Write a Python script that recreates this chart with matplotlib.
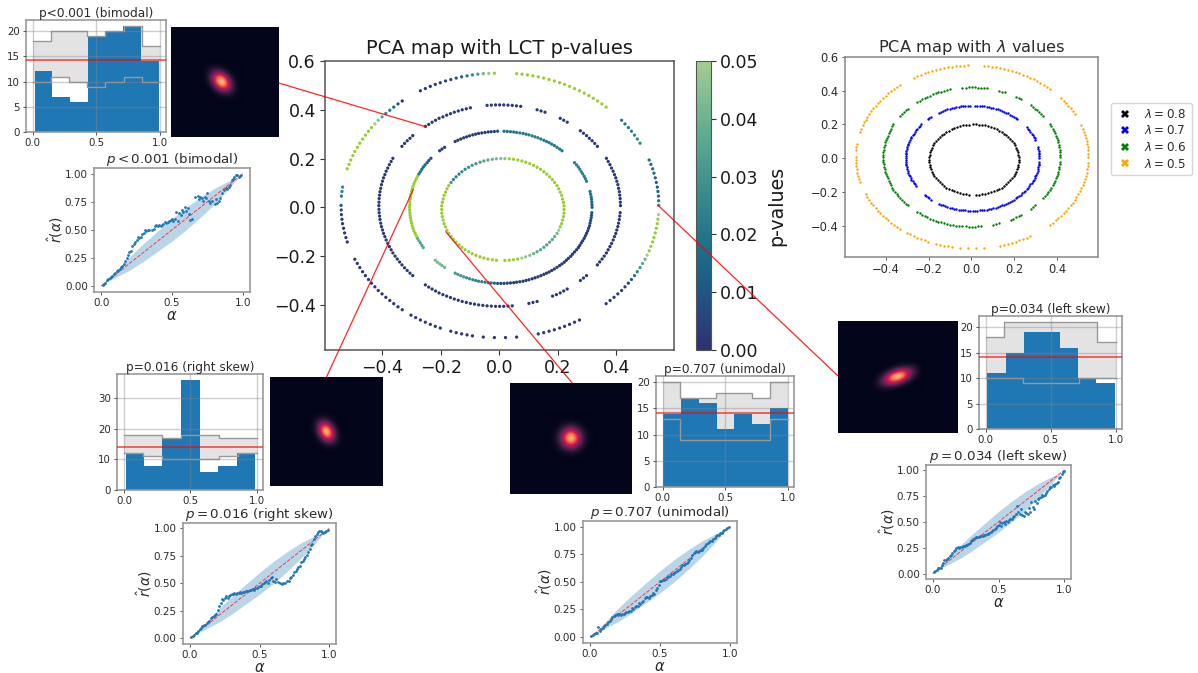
import numpy as np
import matplotlib
matplotlib.use('Agg')
import matplotlib.pyplot as plt
import seaborn as sns
from matplotlib.lines import Line2D
from matplotlib.patches import ConnectionPatch

W, H = 1198, 673

# PCA rings (x, y, p-value per point)
ring1_x = [.221, .221, .219, .216, .213, .208, .203, .197, .189, .181, .172, .162, .152, .141, .129, .117, .104, .090, .077, .063, .048, .034, .019,
           .005, -.010, -.024, -.039, -.053, -.066, -.080, -.093, -.105, -.117, -.128, -.138, -.148, -.157, -.165, -.173, -.179, -.184, -.189, -.192, -.195, -.197,
           -.197, -.197, -.195, -.192, -.189, -.184, -.179, -.173, -.165, -.157, -.148, -.138, -.128, -.117, -.105, -.093, -.080, -.066, -.053, -.039, -.024, -.010,
           .019, .034, .048, .063, .077, .090, .104, .117, .129, .141, .152, .162, .172, .181, .189, .197, .203, .208, .213, .216, .219, .221]
ring1_y = [-.009, .006, .020, .034, .049, .062, .076, .089, .102, .114, .125, .136, .146, .156, .164, .172, .179, .185, .190, .194, .197, .199, .200,
           .200, .199, .197, .194, .190, .185, .179, .172, .164, .156, .146, .136, .125, .114, .102, .089, .076, .062, .049, .034, .020, .006,
           -.009, -.024, -.038, -.052, -.067, -.080, -.094, -.107, -.120, -.132, -.143, -.154, -.164, -.174, -.182, -.190, -.197, -.203, -.208, -.212, -.215, -.217,
           -.218, -.217, -.215, -.212, -.208, -.203, -.197, -.190, -.182, -.174, -.164, -.154, -.143, -.132, -.120, -.107, -.094, -.080, -.067, -.052, -.038, -.024]
ring1_p = [.06, .06, .06, .06, .06, .06, .06, .06, .06, .06, .06, .06, .06, .06, .06, .06, .06, .06, .06, .06, .06, .06, .045,
           .045, .042, .04, .036, .034, .032, .03, .03, .028, .026, .026, .024, .024, .025, .03, .06, .06, .06, .06, .06, .06, .06,
           .06, .06, .06, .06, .06, .06, .06, .06, .06, .06, .06, .06, .06, .06, .06, .06, .06, .06, .06, .06, .06, .06,
           .06, .06, .06, .055, .05, .047, .045, .04, .036, .035, .034, .034, .035, .035, .038, .042, .05, .06, .06, .06, .06, .06]

ring2_x = [.317, .316, .314, .310, .298, .290, .280, .270, .257, .214, .197, .179, .161, .142, .122, .101, .081, .059, .038, .016,
           -.006, -.028, -.049, -.071, -.091, -.112, -.132, -.151, -.187, -.204, -.234, -.247, -.260, -.270, -.280, -.288, -.295, -.300, -.304, -.306,
           -.307, -.306, -.304, -.300, -.295, -.288, -.280, -.270, -.260, -.219, -.204, -.187, -.151, -.132, -.112, -.091, -.071, -.049, -.028, -.006,
           .016, .038, .059, .081, .101, .122, .142, .161, .179, .197, .214, .229, .244, .257, .270, .280, .290, .298, .305, .310, .314, .316,
           .3165, .315, .312, .294, .285, .275, .264, .206, .188, .170, .152, .132, .112, .091, .070, .049, .027,
           -.017, -.038, -.060, -.081, -.102, -.122, -.142, -.196, -.241, -.254, -.265, -.275, -.284, -.292, -.298, -.302, -.305, -.3065,
           -.3065, -.305, -.302, -.298, -.292, -.284, -.275, -.265, -.212, -.196, -.142, -.122, -.102, -.081, -.060, -.038, -.017,
           .005, .027, .049, .070, .091, .112, .132, .152, .170, .188, .206, .222, .236, .250, .264, .275, .285, .294, .302, .308, .312, .315]
ring2_y = [0, .022, .043, .065, .107, .127, .146, .165, .183, .232, .246, .259, .270, .280, .289, .297, .303, .307, .310, .312,
           .312, .310, .307, .303, .297, .289, .280, .270, .246, .232, .201, .183, .165, .146, .127, .107, .086, .065, .043, .022,
           0, -.022, -.043, -.065, -.086, -.107, -.127, -.146, -.165, -.217, -.232, -.246, -.270, -.280, -.289, -.297, -.303, -.307, -.310, -.312,
           -.312, -.310, -.307, -.303, -.297, -.289, -.280, -.270, -.259, -.246, -.232, -.217, -.201, -.183, -.165, -.146, -.127, -.107, -.086, -.065, -.043, -.022,
           .011, .033, .054, .117, .137, .156, .174, .239, .253, .265, .275, .285, .293, .300, .305, .309, .311,
           .311, .309, .305, .300, .293, .285, .275, .239, .192, .174, .156, .137, .117, .097, .076, .054, .033, .011,
           -.011, -.033, -.054, -.076, -.097, -.117, -.137, -.156, -.225, -.239, -.275, -.285, -.293, -.300, -.305, -.309, -.311,
           -.312, -.311, -.309, -.305, -.300, -.293, -.285, -.275, -.265, -.253, -.239, -.225, -.209, -.192, -.174, -.156, -.137, -.117, -.097, -.076, -.054, -.033]
ring2_p = [.012, .014, .018, .02, .022, .022, .024, .024, .022, .02, .02, .021, .021, .021, .022, .021, .02, .02, .019, .018,
           .01, .004, .003, .003, .003, .003, .003, .003, .003, .004, .008, .012, .016, .02, .06, .06, .06, .06, .06, .06,
           .06, .06, .06, .06, .06, .06, .038, .036, .036, .042, .042, .04, .032, .03, .028, .026, .024, .022, .02, .012,
           .005, .003, .002, .002, .003, .002, .002, .003, .002, .002, .003, .002, .002, .003, .002, .003, .004, .004, .005, .006, .008, .01,
           .013, .016, .019, .022, .023, .024, .023, .02, .02, .021, .021, .022, .022, .02, .02, .02, .018,
           .006, .003, .003, .003, .003, .003, .003, .004, .01, .014, .018, .02, .06, .06, .06, .06, .06, .06,
           .06, .06, .06, .06, .06, .06, .037, .036, .042, .041, .03, .029, .027, .025, .023, .021, .016,
           .004, .003, .002, .003, .002, .002, .003, .002, .002, .003, .002, .003, .002, .002, .003, .003, .004, .004, .005, .006, .007, .009]

ring3_x = [.414, .413, .410, .405, .398, .389, .378, .366, .335, .317, .298, .277, .232, .208, .156, .129, .073, .044, .015,
           -.013, -.042, -.099, -.127, -.154, -.180, -.206, -.230, -.253, -.296, -.315, -.333, -.364, -.376, -.387, -.396, -.403, -.408, -.411,
           -.412, -.411, -.408, -.403, -.396, -.387, -.376, -.364, -.349, -.333, -.315, -.296, -.253, -.230, -.206, -.180, -.154, -.127, -.099, -.071, -.042, -.013,
           .015, .044, .101, .129, .182, .208, .232, .277, .298, .335, .351, .366, .378, .389, .398, .405, .410, .413,
           .4135, .4115, .4075, .4015, .3935, .3835, .372, .326, .3075, .2875, .220, .1425, .0585, .0295,
           .001, -.0275, -.113, -.1405, -.167, -.193, -.218, -.2415, -.3055, -.324, -.370, -.3815, -.3915, -.3995, -.4055, -.4095, -.4115,
           -.4115, -.4095, -.4055, -.3995, -.3915, -.3815, -.370, -.3565, -.341, -.324, -.3055, -.2415, -.218, -.193, -.167, -.1405, -.113, -.085, -.0565, -.0275,
           .001, .0295, .115, .195, .220, .2875, .343, .3585, .372, .3835, .3935, .4015, .4075, .4115]
ring3_y = [.007, .036, .064, .093, .121, .148, .175, .201, .250, .273, .294, .314, .349, .365, .390, .400, .414, .418, .420,
           .420, .418, .408, .400, .390, .378, .365, .349, .332, .294, .273, .250, .201, .175, .148, .121, .093, .064, .036,
           .007, -.022, -.050, -.079, -.107, -.134, -.161, -.187, -.212, -.236, -.259, -.280, -.318, -.335, -.351, -.364, -.376, -.386, -.394, -.400, -.404, -.406,
           -.406, -.404, -.394, -.386, -.364, -.351, -.335, -.300, -.280, -.236, -.212, -.187, -.161, -.134, -.107, -.079, -.050, -.022,
           .021, .05, .078, .107, .134, .161, .188, .262, .283, .304, .357, .395, .416, .419,
           .420, .419, .404, .395, .384, .371, .357, .340, .283, .262, .188, .161, .134, .107, .078, .05, .021,
           -.008, -.036, -.065, -.093, -.120, -.148, -.174, -.200, -.224, -.248, -.270, -.327, -.343, -.358, -.370, -.381, -.390, -.397, -.402, -.405,
           -.406, -.405, -.390, -.358, -.343, -.290, -.224, -.200, -.174, -.148, -.120, -.093, -.065, -.036]
ring3_p = [.003, .002, .002, .003, .002, .003, .002, .003, .002, .002, .003, .002, .003, .002, .002, .003, .002, .002, .003,
           .002, .003, .002, .002, .003, .002, .002, .003, .002, .002, .003, .002, .002, .003, .002, .002, .003, .002, .002,
           .002, .003, .002, .002, .003, .002, .002, .003, .002, .002, .003, .002, .002, .003, .002, .002, .003, .002, .002, .003, .002, .002,
           .002, .003, .002, .002, .003, .002, .002, .003, .002, .002, .003, .002, .002, .003, .002, .002, .003, .002,
           .003, .002, .002, .003, .002, .003, .002, .003, .002, .002, .003, .002, .003, .002,
           .002, .003, .002, .002, .003, .002, .002, .003, .002, .002, .003, .002, .002, .003, .002, .002, .003,
           .002, .003, .002, .002, .003, .002, .002, .003, .002, .002, .003, .002, .002, .003, .002, .002, .003, .002, .002, .003,
           .002, .003, .002, .002, .003, .002, .002, .003, .002, .002, .003, .002, .002, .003]

ring4_x = [.545, .544, .540, .533, .524, .512, .481, .462, .441, .418, .365, .336, .306, .274, .240, .206, .170, .133, .096, .059,
           -.017, -.055, -.092, -.129, -.166, -.202, -.236, -.270, -.332, -.361, -.388, -.414, -.437, -.458, -.477, -.494, -.508, -.520, -.536, -.540,
           -.541, -.540, -.536, -.529, -.520, -.494, -.477, -.458, -.437, -.414, -.388, -.361, -.332, -.302, -.270, -.236, -.202, -.166, -.129, -.092, -.055, -.017,
           .021, .059, .133, .170, .206, .240, .274, .365, .392, .418, .441, .462, .481, .498, .512, .524, .533, .540, .544,
           .5445, .542, .5365, .5285, .518, .4715, .4515, .4295, .3505, .321, .29, .257, .223, .188, .1515, .1145, .0775,
           -.036, -.0735, -.1105, -.1475, -.184, -.219, -.253, -.3465, -.3745, -.401, -.4255, -.4475, -.4675, -.4855, -.501, -.514, -.538,
           -.5405, -.538, -.5325, -.5245, -.4855, -.4675, -.4475, -.4255, -.401, -.3745, -.3465, -.286, -.253, -.219, -.1475, -.1105,
           .1515, .188, .223, .257, .3785, .405, .4295, .4515, .4715, .4895, .505, .518, .5285, .5365, .542]
ring4_y = [.008, .046, .083, .121, .158, .194, .263, .296, .327, .357, .411, .436, .458, .478, .496, .511, .524, .535, .543, .548,
           .550, .548, .543, .535, .524, .511, .496, .478, .436, .411, .385, .357, .327, .296, .263, .229, .194, .158, .083, .046,
           .008, -.030, -.067, -.105, -.142, -.213, -.247, -.280, -.311, -.341, -.369, -.395, -.420, -.442, -.462, -.480, -.495, -.508, -.519, -.527, -.532, -.534,
           -.534, -.532, -.519, -.508, -.495, -.480, -.462, -.395, -.369, -.341, -.311, -.280, -.247, -.213, -.178, -.142, -.105, -.067, -.030,
           .027, .065, .102, .14, .176, .28, .312, .342, .424, .447, .468, .487, .504, .518, .53, .539, .546,
           .549, .546, .539, .53, .518, .504, .487, .424, .398, .371, .342, .312, .28, .246, .212, .176, .065,
           -.011, -.049, -.086, -.124, -.23, -.264, -.296, -.326, -.355, -.382, -.408, -.452, -.471, -.488, -.514, -.523,
           -.514, -.502, -.488, -.471, -.382, -.355, -.326, -.296, -.264, -.23, -.196, -.16, -.124, -.086, -.049]
ring4_p = [.03, .016, .015, .016, .018, .018, .025, .024, .022, .02, .055, .06, .06, .06, .06, .06, .06, .06, .06, .06,
           .055, .04, .025, .015, .006, .004, .003, .003, .003, .015, .025, .045, .06, .06, .06, .06, .06, .06, .025, .022,
           .012, .004, .003, .002, .002, .002, .002, .002, .002, .002, .002, .002, .002, .002, .002, .002, .002, .002, .002, .002, .002, .002,
           .002, .002, .002, .002, .002, .002, .002, .003, .003, .004, .005, .02, .03, .04, .06, .06, .06, .06, .05,
           .02, .015, .015, .017, .018, .024, .023, .021, .058, .06, .06, .06, .06, .06, .06, .06, .06,
           .048, .032, .02, .01, .005, .003, .003, .008, .02, .035, .05, .06, .06, .06, .06, .06, .024,
           .008, .003, .002, .002, .002, .002, .002, .002, .002, .002, .002, .002, .002, .002, .002, .002,
           .002, .002, .002, .002, .003, .004, .005, .012, .025, .035, .05, .06, .06, .06, .06]

lambda_labels = [r'$\lambda=0.8$', r'$\lambda=0.7$', r'$\lambda=0.6$', r'$\lambda=0.5$']
lambda_colors = ['black', 'blue', 'green', 'orange']

# histograms
bimodal_edges = [.016, .152, .29, .432, .571, .71, .85, .992]
bimodal_bars = [12, 7, 6, 19, 20, 21, 14]
bimodal_upper = [18, 20, 20, 19, 20, 21, 17]
bimodal_lower = [10, 11, 10, 9, 10, 11, 10]

right_edges = [.012, .152, .29, .43, .57, .71, .85, .99]
right_bars = [12, 8, 17, 36, 6, 8, 12]
right_upper = [18, 18, 17, 18, 18, 17, 17]
right_lower = [12, 11, 10, 10, 10, 11, 12]

uni_edges = [.002, .145, .288, .43, .572, .715, .858, 1.0]
uni_bars = [14, 17, 16, 11, 14, 12, 15]
uni_upper = [20, 17, 17, 18, 18, 17, 20]
uni_lower = [13, 9, 9, 9, 9, 9, 13]

left_edges = [.012, .152, .29, .43, .57, .71, .85, .99]
left_bars = [11, 15, 19, 19, 16, 10, 9]
left_upper = [18, 21, 21, 21, 21, 21, 17]
left_lower = [10, 10, 9, 9, 9, 10, 10]

band_edges = [0, .143, .286, .429, .571, .714, .857, 1.0]
hist_mean = 14.2

# calibration curves
bimodal_a = [.01, .02, .03, .04, .05, .06, .07, .08, .09, .10,
             .11, .12, .13, .14, .15, .16, .17, .18, .19, .20,
             .21, .22, .23, .24, .25, .26, .27, .28, .29, .30,
             .31, .32, .33, .34, .36, .37, .38, .39, .40, .41,
             .42, .43, .44, .45, .46, .47, .48, .49, .50, .51,
             .52, .53, .54, .55, .56, .57, .58, .59, .60, .61,
             .62, .63, .64, .66, .68, .69, .70, .71, .72, .73,
             .74, .75, .76, .77, .78, .80, .81, .82, .83, .84,
             .85, .87, .88, .89, .90, .91, .92, .93, .94, .95,
             .96, .97, .98, .99]
bimodal_r = [.01, .02, .03, .05, .06, .07, .08, .09, .11, .12,
             .13, .14, .15, .17, .18, .20, .22, .25, .28, .30,
             .31, .36, .37, .39, .41, .44, .43, .44, .46, .47,
             .50, .49, .50, .50, .50, .51, .53, .54, .53, .54,
             .53, .54, .55, .57, .56, .57, .58, .59, .60, .58,
             .60, .66, .58, .65, .63, .68, .66, .70, .67, .69,
             .64, .59, .60, .79, .80, .77, .79, .78, .76, .79,
             .78, .83, .76, .74, .76, .73, .77, .74, .76, .78,
             .83, .85, .87, .86, .88, .90, .94, .95, .97, .99,
             .99, .97, .98, .99]

right_a = [.01, .02, .03, .04, .05, .06, .07, .08, .09, .10,
           .11, .12, .13, .14, .15, .16, .17, .18, .19, .20,
           .21, .22, .23, .24, .25, .26, .27, .28, .29, .30,
           .31, .32, .33, .34, .35, .36, .37, .38, .39, .40,
           .41, .42, .43, .44, .45, .46, .47, .48, .49, .50,
           .51, .52, .53, .54, .55, .56, .57, .58, .59, .60,
           .61, .62, .63, .65, .66, .67, .68, .70, .71, .72,
           .73, .74, .75, .76, .77, .78, .79, .80, .81, .82,
           .83, .84, .85, .86, .87, .88, .89, .90, .91, .92,
           .93, .94, .95, .96, .97, .98, .99]
right_r = [.01, .02, .03, .05, .05, .07, .08, .09, .11, .12,
           .12, .14, .15, .16, .18, .19, .20, .21, .22, .26,
           .29, .32, .36, .35, .37, .38, .37, .38, .39, .40,
           .40, .41, .40, .41, .41, .42, .41, .42, .42, .43,
           .43, .43, .44, .44, .45, .44, .46, .46, .47, .48,
           .48, .49, .50, .51, .52, .50, .53, .55, .56, .52,
           .51, .54, .51, .50, .49, .50, .50, .52, .52, .55,
           .56, .58, .60, .61, .63, .65, .66, .69, .70, .72,
           .74, .76, .79, .81, .85, .86, .90, .93, .95, .97,
           .98, .98, .97, .96, .97, .98, .99]

uni_a = [.01, .02, .03, .04, .05, .06, .07, .08, .09, .10,
         .11, .12, .13, .14, .15, .16, .17, .18, .19, .20,
         .21, .22, .23, .24, .25, .26, .27, .28, .29, .30,
         .31, .32, .33, .34, .35, .36, .37, .38, .39, .40,
         .41, .42, .43, .44, .45, .46, .47, .48, .49, .50,
         .51, .52, .53, .54, .55, .56, .57, .58, .59, .60,
         .61, .62, .63, .64, .65, .66, .67, .68, .69, .70,
         .71, .72, .73, .74, .75, .76, .77, .78, .79, .80,
         .81, .82, .83, .84, .85, .86, .87, .88, .89, .90,
         .91, .92, .93, .94, .95, .96, .97, .98, .99]
uni_r = [.01, .02, .03, .04, .04, .09, .06, .07, .08, .10,
         .11, .12, .14, .15, .16, .18, .19, .20, .21, .20,
         .21, .20, .21, .21, .22, .23, .23, .24, .24, .26,
         .25, .27, .28, .28, .31, .30, .32, .33, .35, .36,
         .36, .35, .37, .38, .40, .39, .43, .44, .47, .51,
         .51, .52, .52, .53, .54, .54, .55, .57, .57, .58,
         .59, .60, .61, .62, .63, .65, .65, .66, .67, .68,
         .70, .72, .74, .76, .77, .78, .77, .78, .79, .79,
         .81, .82, .84, .85, .86, .87, .87, .89, .90, .91,
         .92, .92, .94, .94, .96, .97, .98, .99, 1.0]

left_a = [.01, .02, .03, .04, .05, .06, .07, .08, .09, .10,
          .11, .12, .13, .14, .15, .16, .17, .18, .19, .20,
          .21, .22, .23, .24, .25, .26, .27, .28, .29, .30,
          .31, .32, .33, .34, .35, .36, .37, .38, .39, .40,
          .41, .42, .43, .44, .45, .46, .47, .48, .49, .50,
          .51, .52, .53, .54, .55, .56, .57, .58, .59, .60,
          .61, .62, .63, .64, .65, .66, .67, .68, .69, .70,
          .71, .72, .73, .74, .75, .76, .77, .78, .79, .80,
          .81, .82, .83, .84, .85, .86, .87, .88, .89, .90,
          .91, .92, .93, .94, .95, .96, .97, .98, .99, 1.0]
left_r = [.01, .02, .03, .05, .05, .05, .08, .10, .13, .13,
          .14, .15, .17, .18, .20, .22, .23, .25, .26, .25,
          .26, .26, .27, .27, .28, .28, .29, .30, .31, .32,
          .33, .34, .35, .35, .35, .36, .36, .36, .37, .37,
          .38, .38, .39, .40, .41, .42, .43, .44, .46, .47,
          .50, .46, .49, .50, .48, .51, .50, .52, .53, .53,
          .55, .56, .58, .65, .60, .58, .62, .57, .56, .60,
          .59, .58, .63, .60, .69, .64, .62, .70, .68, .72,
          .73, .74, .76, .75, .76, .78, .80, .82, .84, .84,
          .86, .85, .87, .88, .89, .92, .93, .96, .98, .99]

band_a = [.03, .1, .2, .3, .4, .5, .6, .7, .8, .9, .97]
band_low = [.03, .075, .14, .22, .31, .40, .50, .61, .73, .865, .97]
band_high = [.03, .125, .26, .38, .49, .60, .70, .79, .87, .935, .97]

# latent densities, coarse grids
blob_bimodal = [[.01, .03, .038, .02, .004, 0, 0],
                [.03, .13, .233, .175, .055, .007, 0],
                [.038, .233, .6, .647, .291, .055, .004],
                [.02, .175, .647, 1, .647, .175, .02],
                [.004, .055, .291, .647, .6, .233, .038],
                [0, .007, .055, .175, .233, .13, .03],
                [0, 0, .004, .02, .038, .03, .01]]
blob_right = [[.003, .021, .044, .028, .006, 0, 0],
              [.008, .076, .226, .205, .057, .005, 0],
              [.009, .124, .52, .67, .26, .031, 0],
              [.005, .09, .55, 1, .55, .09, .005],
              [0, .031, .26, .67, .52, .124, .009],
              [0, .005, .057, .205, .226, .076, .008],
              [0, 0, .006, .028, .044, .021, .003]]
blob_uni = [[0, .002, .007, .011, .007, .002, 0],
            [.002, .018, .082, .135, .082, .018, .002],
            [.007, .082, .368, .607, .368, .082, .007],
            [.011, .135, .607, 1, .607, .135, .011],
            [.007, .082, .368, .607, .368, .082, .007],
            [.002, .018, .082, .135, .082, .018, .002],
            [0, .002, .007, .011, .007, .002, 0]]
blob_left = [[0, 0, 0, .012, .04, .085, .11, .094, .05],
             [0, .014, .07, .22, .45, .58, .48, .25, .083],
             [.027, .13, .41, .8, 1, .8, .41, .13, .027],
             [.083, .25, .48, .58, .45, .22, .07, .014, 0],
             [.05, .094, .11, .085, .04, .012, 0, 0, 0]]

dark = '#2b2b2b'
edge = '#999999'
blob_cmap = sns.color_palette('rocket', as_cmap=True)


def px_axes(left, top, right, bottom):
    return fig.add_axes([left / W, 1 - bottom / H, (right - left) / W, (bottom - top) / H])


def style_axes(ax, color=edge, width=1.2):
    for s in ax.spines.values():
        s.set_color(color)
        s.set_linewidth(width)


def draw_hist(box, edges, bars, lower, upper, title, ytop, yticks):
    ax = px_axes(*box)
    ax.fill_between(band_edges, lower + lower[-1:], upper + upper[-1:], step='post', color='#e3e3e3', zorder=0.5, lw=0)
    ax.bar(edges[:-1], bars, width=np.diff(edges), align='edge', color='#1f77b4', zorder=1)
    ax.step(band_edges, upper + upper[-1:], where='post', color='#999999', lw=1.0, zorder=2)
    ax.step(band_edges, lower + lower[-1:], where='post', color='#999999', lw=1.0, zorder=2)
    ax.axhline(hist_mean, color='red', lw=1.1, alpha=0.75, zorder=3)
    ax.set_xlim(-0.052, 1.047)
    ax.set_ylim(0, ytop)
    ax.set_xticks([0, 0.5, 1.0], ['0.0', '0.5', '1.0'])
    ax.set_yticks(yticks)
    ax.tick_params(labelsize=7.4, length=2.5, width=0.7, pad=2, color='#555555', labelcolor=dark)
    ax.set_axisbelow(False)
    ax.grid(True, color='#888888', alpha=0.4, lw=1)
    ax.set_title(title, fontsize=8.7, pad=2, color=dark)
    style_axes(ax)
    return ax


def draw_calibration(box, a, r, title):
    ax = px_axes(*box)
    ax.fill_between(band_a, band_low, band_high, color='#1f77b4', alpha=0.3, lw=0)
    ax.plot([0, 1], [0, 1], color='red', ls='--', lw=0.7, alpha=0.7)
    ax.scatter(a, r, s=4, color='#1f77b4', lw=0, zorder=3)
    ax.set_xlim(-0.05, 1.05)
    ax.set_ylim(-0.053, 1.05)
    ax.set_xticks([0, 0.5, 1.0], ['0.0', '0.5', '1.0'])
    ax.set_yticks([0, .25, .5, .75, 1.0], ['0.00', '0.25', '0.50', '0.75', '1.00'])
    ax.tick_params(labelsize=7.5, length=2.5, width=0.7, pad=2, color='#555555', labelcolor=dark)
    ax.set_xlabel(r'$\alpha$', fontsize=10.5, labelpad=0, color=dark)
    ax.set_ylabel(r'$\hat{r}(\alpha)$', fontsize=10, labelpad=0, color=dark)
    ax.set_title(title, fontsize=9.6, pad=2, color=dark)
    style_axes(ax)
    return ax


def draw_blob(box, grid, cx, cy, step):
    ax = px_axes(*box)
    w, h = box[2] - box[0], box[3] - box[1]
    g = np.pad(np.array(grid), 1)
    hx, hy = g.shape[1] / 2 * step, g.shape[0] / 2 * step
    ax.set_facecolor(blob_cmap(0.0))
    ax.imshow(g, cmap=blob_cmap, vmin=0, vmax=0.9, interpolation='bicubic', aspect='auto',
              extent=(cx * w - hx, cx * w + hx, cy * h + hy, cy * h - hy))
    ax.set_xlim(0, w)
    ax.set_ylim(h, 0)
    ax.set_xticks([])
    ax.set_yticks([])
    for s in ax.spines.values():
        s.set_visible(False)
    return ax


fig = plt.figure(figsize=(W / 100, H / 100), dpi=100)

# centre map
cmap = sns.color_palette('crest_r', as_cmap=True).copy()
cmap.set_over('yellowgreen')
ax_map = px_axes(325, 61, 674, 350)
all_x = ring1_x + ring2_x + ring3_x + ring4_x
all_y = ring1_y + ring2_y + ring3_y + ring4_y
all_p = ring1_p + ring2_p + ring3_p + ring4_p
sc = ax_map.scatter(all_x, all_y, c=all_p, cmap=cmap, vmin=0, vmax=0.05, s=5.5, lw=0)
ax_map.set_xlim(-0.596, 0.597)
ax_map.set_ylim(-0.585, 0.6)
ax_map.set_xticks([-.4, -.2, 0, .2, .4])
ax_map.set_yticks([-.4, -.2, 0, .2, .4, .6])
ax_map.tick_params(labelsize=12.5, length=3.5, pad=3, color='#333333', labelcolor='#1a1a1a')
ax_map.set_title('PCA map with LCT p-values', fontsize=14, pad=5, color='#1a1a1a')
style_axes(ax_map, '#555555', 1.1)

cax = px_axes(696, 61, 711, 350)
cb = fig.colorbar(sc, cax=cax, ticks=[0, .01, .02, .03, .04, .05])
cb.ax.set_yticklabels(['0.00', '0.01', '0.02', '0.03', '0.04', '0.05'])
cb.ax.tick_params(labelsize=12.5, length=3.5, pad=3, color='#333333', labelcolor='#1a1a1a')
cb.set_label('p-values', fontsize=13.7, labelpad=6, color='#1a1a1a')
cb.outline.set_edgecolor('#555555')

# lambda map
ax_lam = px_axes(845, 57, 1098, 257)
rings = [(ring1_x, ring1_y), (ring2_x, ring2_y), (ring3_x, ring3_y), (ring4_x, ring4_y)]
for (rx, ry), col in zip(rings, lambda_colors):
    ax_lam.scatter(rx, ry, s=3, color=col, lw=0)
ax_lam.set_xlim(-0.59, 0.59)
ax_lam.set_ylim(-0.586, 0.6)
ax_lam.set_xticks([-.4, -.2, 0, .2, .4])
ax_lam.set_yticks([-.4, -.2, 0, .2, .4, .6])
ax_lam.tick_params(labelsize=8.3, length=2.5, width=0.7, pad=2, color='#555555', labelcolor=dark)
ax_lam.set_title(r'PCA map with $\lambda$ values', fontsize=11.7, pad=3, color=dark)
style_axes(ax_lam, '#888888', 1.1)

handles = [Line2D([], [], ls='', marker='X', ms=5.5, color=c, mew=0) for c in lambda_colors]
fig.legend(handles, lambda_labels, loc='upper left', bbox_to_anchor=(1111 / W, 1 - 103 / H),
           bbox_transform=fig.transFigure, borderaxespad=0, fontsize=8.6, labelcolor=dark,
           handletextpad=0.8, labelspacing=0.3, borderpad=0.4, handlelength=1.6)

# small panels
draw_hist((26, 20, 166, 132), bimodal_edges, bimodal_bars, bimodal_lower, bimodal_upper,
          'p<0.001 (bimodal)', 22.2, [0, 5, 10, 15, 20])
blob_a = draw_blob((171, 27, 279, 137), blob_bimodal, .47, .497, 5)
draw_calibration((94, 168, 250, 292), bimodal_a, bimodal_r, r'$p<0.001$ (bimodal)')

draw_hist((117, 374, 263, 490), right_edges, right_bars, right_lower, right_upper,
          'p=0.016 (right skew)', 38, [0, 10, 20, 30])
blob_b = draw_blob((270, 377, 383, 486), blob_right, .5, .497, 5)
draw_calibration((183, 523, 336, 644), right_a, right_r, r'$p=0.016$ (right skew)')

draw_hist((656, 376, 794, 487), uni_edges, uni_bars, uni_lower, uni_upper,
          'p=0.707 (unimodal)', 21.2, [0, 5, 10, 15, 20])
blob_c = draw_blob((510, 383, 632, 494), blob_uni, .5, .494, 6)
draw_calibration((583, 521, 737, 643), uni_a, uni_r, r'$p=0.707$ (unimodal)')

draw_hist((979, 316, 1122, 429), left_edges, left_bars, left_lower, left_upper,
          'p=0.034 (left skew)', 22.2, [0, 5, 10, 15, 20])
blob_d = draw_blob((838, 321, 958, 433), blob_left, .497, .5, 5)
draw_calibration((926, 465, 1071, 579), left_a, left_r, r'$p=0.034$ (left skew)')

# connectors from the map to the thumbnails
links = [((-.25, .33), blob_a, (1.0, .49)),
         ((-.294, .074), blob_b, (.5, 1.0)),
         ((-.183, -.1), blob_c, (.51, 1.0)),
         ((.541, .01), blob_d, (0.0, .51))]
for xy, target, frac in links:
    con = ConnectionPatch(xyA=xy, coordsA=ax_map.transData, xyB=frac, coordsB=target.transAxes,
                          color='red', lw=0.9, alpha=0.85, zorder=10)
    fig.add_artist(con)

fig.savefig('out.png', dpi=100)
